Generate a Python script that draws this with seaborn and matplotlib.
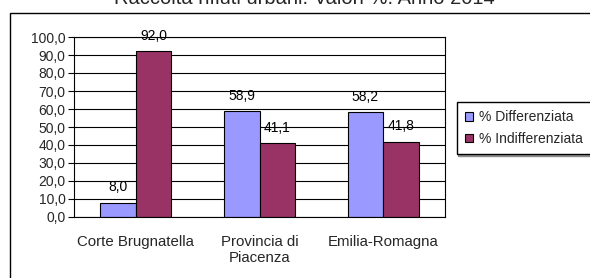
import matplotlib
matplotlib.use("Agg")
import matplotlib.pyplot as plt
import pandas as pd
import seaborn as sns
from matplotlib.patches import Patch, Rectangle
from matplotlib.ticker import FuncFormatter, FixedLocator

# data
categorie = ["Corte Brugnatella", "Provincia di\nPiacenza", "Emilia-Romagna"]
serie = ["% Differenziata", "% Indifferenziata"]
differenziata = [8.0, 58.9, 58.2]
indifferenziata = [92.0, 41.1, 41.8]
colori = ["#9999FF", "#993366"]
titolo = "Raccolta rifiuti urbani. Valori %. Anno 2014"

df = pd.DataFrame({
    "categoria": categorie * 2,
    "valore": differenziata + indifferenziata,
    "serie": [serie[0]] * 3 + [serie[1]] * 3,
})

sns.set_style("white")
plt.rcParams["font.family"] = ["Liberation Sans", "DejaVu Sans"]

W, H = 590, 278
fig = plt.figure(figsize=(W / 100, H / 100), dpi=100)
ax = fig.add_axes([74 / W, 1 - 217 / H, (445 - 74) / W, (217 - 37) / H])

sns.barplot(data=df, x="categoria", y="valore", hue="serie", order=categorie,
            hue_order=serie, palette=colori, width=0.573, gap=0,
            edgecolor="black", linewidth=0.8, saturation=1, legend=False, ax=ax)

for cont in ax.containers:
    ax.bar_label(cont, labels=[f"{b.get_height():.1f}".replace(".", ",") for b in cont],
                 padding=6, fontsize=10, color="black")

ax.set_ylim(0, 100)
ax.set_xlim(-0.5, 2.5)
ax.set_yticks(range(0, 101, 10))
ax.yaxis.set_major_formatter(FuncFormatter(lambda v, p: f"{v:.1f}".replace(".", ",")))
ax.grid(axis="y", color="black", linewidth=0.8)
ax.set_axisbelow(True)
ax.set_xlabel("")
ax.set_ylabel("")

# category ticks sit between the groups
ax.xaxis.set_minor_locator(FixedLocator([-0.5, 0.5, 1.5, 2.5]))
ax.tick_params(axis="x", which="major", length=0, labelsize=10.8, pad=13)
ax.tick_params(axis="x", which="minor", length=4, width=0.8, direction="out", color="black")
ax.tick_params(axis="y", length=4, width=0.8, direction="out", color="black",
               labelsize=10, left=True, pad=2)
for s in ax.spines.values():
    s.set_color("black")
    s.set_linewidth(0.8)

handles = [Patch(facecolor=c, edgecolor="black", linewidth=0.8) for c in colori]
fig.legend(handles, serie, loc="upper left", bbox_to_anchor=(457 / W, 1 - 102 / H),
           frameon=True, fancybox=False, edgecolor="black", fontsize=10,
           handlelength=0.55, handleheight=0.55, handletextpad=0.45,
           borderpad=0.6, labelspacing=0.55, borderaxespad=0,
           shadow={"color": "0.55", "alpha": 1, "ox": 1, "oy": -1})

fig.text(304 / W, 1 - 4 / H, titolo, ha="center", va="baseline", fontsize=14.5)

fig.patches.append(Rectangle((10 / W, -0.1), 1.2, 1.1 - 12.7 / H, transform=fig.transFigure,
                             fill=False, edgecolor="black", linewidth=1))

fig.savefig("out.png", dpi=100)
